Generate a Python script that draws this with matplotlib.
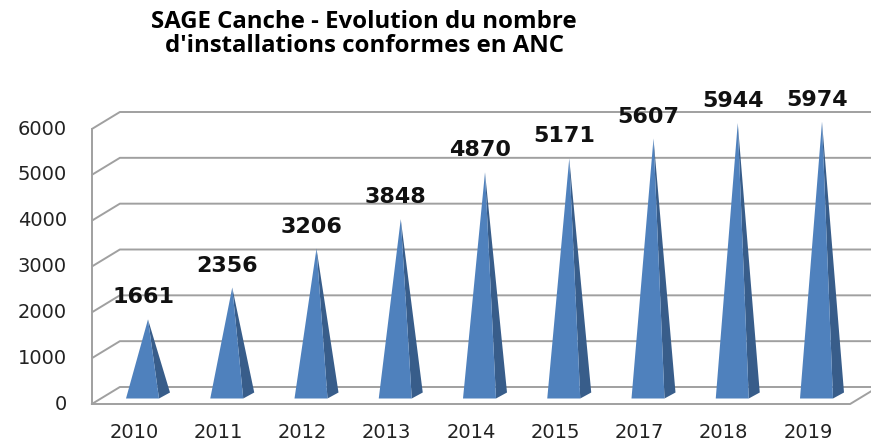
import matplotlib

matplotlib.use("Agg")
import matplotlib.pyplot as plt
from matplotlib.patches import Polygon

years = ["2010", "2011", "2012", "2013", "2014", "2015", "2017", "2018", "2019"]
counts = [1661, 2356, 3206, 3848, 4870, 5171, 5607, 5944, 5974]
y_ticks = [0, 1000, 2000, 3000, 4000, 5000, 6000]
title = "SAGE Canche - Evolution du nombre\nd'installations conformes en ANC"

W, H = 871, 441
# pixel geometry of the pseudo-3D frame
px_per_cat = 84.25
px_per_unit = 275 / 6000
x0_px, y0_px = 134, 37            # category 0 / value 0 on the front plane
depth_px = (28, 17)               # floor depth offset
pyr_depth_px = (11, 6)            # pyramid base depth offset
pyr_half_px = 16.5                # half width of pyramid front face

dx = depth_px[0] / px_per_cat
dv = depth_px[1] / px_per_unit
pdx = pyr_depth_px[0] / px_per_cat
pdv = pyr_depth_px[1] / px_per_unit
half = pyr_half_px / px_per_cat

grid_color = "#a0a0a0"
front_color = "#4f81bd"
side_color = "#385d8a"

fig = plt.figure(figsize=(W / 100, H / 100), dpi=100)
ax = fig.add_axes([0, 0, 1, 1])
ax.set_xlim(-x0_px / px_per_cat, (W - x0_px) / px_per_cat)
ax.set_ylim(-y0_px / px_per_unit, (H - y0_px) / px_per_unit)
ax.axis("off")

n = len(years)
left, right = -0.5, n - 0.5
lw = 1.4

# back-wall gridlines with their diagonal to the front axis
for v in y_ticks:
    ax.plot([left, left + dx, right + dx + 1], [v, v + dv, v + dv],
            color=grid_color, lw=lw, solid_capstyle="butt")
# front axis and floor
ax.plot([left, left], [0, y_ticks[-1]], color=grid_color, lw=lw)
ax.plot([left, right, right + dx], [0, 0, dv], color=grid_color, lw=lw)

for i, (year, value) in enumerate(zip(years, counts)):
    # pyramid centered in depth
    fx = i + (dx - pdx) / 2
    fv = (dv - pdv) / 2
    tip = (i + dx / 2, value + dv / 2)
    front = [(fx - half, fv), (fx + half, fv), tip]
    side = [(fx + half, fv), (fx + half + pdx, fv + pdv), tip]
    ax.add_patch(Polygon(side, closed=True, fc=side_color, ec="none", zorder=3))
    ax.add_patch(Polygon(front, closed=True, fc=front_color, ec="none", zorder=4))
    ax.annotate(str(value), xy=tip, xytext=(-5, 22), textcoords="offset pixels",
                ha="center", va="center", fontsize=16, fontweight="bold",
                color="#111111", zorder=5)
    ax.annotate(year, xy=(i, 0), xytext=(0, -29), textcoords="offset pixels",
                ha="center", va="center", fontsize=14, color="#222222")

for v in y_ticks:
    ax.annotate(str(v), xy=(left, v), xytext=(-25, 0), textcoords="offset pixels",
                ha="right", va="center", fontsize=14, color="#222222")

fig.text(364 / W, 1 - 34 / H, title, ha="center", va="center", fontsize=17.3,
         fontweight="bold", family="Open Sans", linespacing=1.0)

fig.savefig("out.png", dpi=100)
